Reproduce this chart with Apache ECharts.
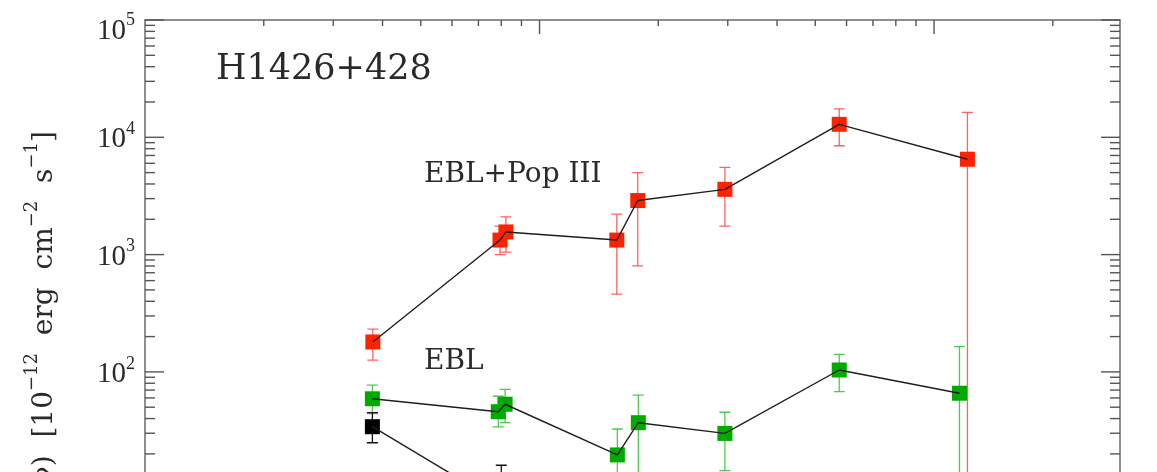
<!DOCTYPE html>
<html>
<head>
<meta charset="utf-8">
<script src="https://cdn.jsdelivr.net/npm/echarts@6/dist/echarts.min.js"></script>
<style>
  html, body { margin: 0; padding: 0; background: #ffffff; overflow: hidden; }
  #chart { width: 1157px; height: 472px; }
</style>
</head>
<body>
<div id="chart"></div>
<script>
// Intrinsic spectrum of H1426+428, energies in TeV, fluxes in 1e-12 erg cm^-2 s^-1

// EBL + Pop III absorption correction
const energyPop3 = [0.378, 0.794, 0.822, 1.57, 1.774, 2.95, 5.75, 12.15];
const fluxPop3   = [180, 1330, 1560, 1330, 2890, 3600, 12900, 6500];
const fluxPop3Lo = [126, 1000, 1050, 460, 800, 1750, 8470, 1.0];
const fluxPop3Hi = [232, 1750, 2100, 2210, 4990, 5550, 17500, 16300];

// EBL-only absorption correction
const energyEbl = [0.377, 0.786, 0.818, 1.575, 1.78, 2.95, 5.75, 11.6];
const fluxEbl   = [59, 45.8, 53, 19.6, 36.9, 29.9, 103.8, 65.8];
const fluxEblLo = [44, 34, 37, 8, 10, 14.4, 67.8, 8];
const fluxEblHi = [77, 62, 71, 32.6, 63.5, 45.3, 141, 164];

// Observed spectrum
const energyObs = [0.377, 0.80];
const fluxObs   = [34.1, 7.5];
const fluxObsLo = [24.9, 3.5];
const fluxObsHi = [44.9, 16];

// Axis ranges and tick values
const energyRange = [0.1, 29.6];
const fluxRange = [0.5, 1e5];
const xMajorTicks = [1, 10];
const xMinorTicks = [0.2, 0.3, 0.4, 0.5, 0.6, 0.7, 0.8, 0.9, 2, 3, 4, 5, 6, 7, 8, 9, 20];
const yMajorTicks = [1, 10, 100, 1000, 10000, 100000];
const yMinorTicks = [0.6, 0.7, 0.8, 0.9,
  2, 3, 4, 5, 6, 7, 8, 9,
  20, 30, 40, 50, 60, 70, 80, 90,
  200, 300, 400, 500, 600, 700, 800, 900,
  2000, 3000, 4000, 5000, 6000, 7000, 8000, 9000,
  20000, 30000, 40000, 50000, 60000, 70000, 80000, 90000];

const SERIF = '"DejaVu Serif", "Liberation Serif", serif';
const TICK_FONT = '"Liberation Serif", "DejaVu Serif", serif';
const TEXT_COLOR = '#2a2a2a';
const AXIS_COLOR = '#6a6a6a';

// plot frame: 117.3 px per decade on the flux axis, top at 10^5;
// the lower part of the frame runs past the bottom of the canvas
const PLOT_TOP = 20;
const DECADE_PX = 117.3;
const plotHeight = (Math.log10(fluxRange[1]) - Math.log10(fluxRange[0])) * DECADE_PX;

function pairs(xs, ys) { return xs.map((x, i) => [x, ys[i]]); }
function bars(xs, lo, hi) { return xs.map((x, i) => [x, lo[i], hi[i]]); }

function renderErrorBars(params, api) {
  const x = api.value(0);
  const lo = api.coord([x, api.value(1)]);
  const hi = api.coord([x, api.value(2)]);
  const half = 5.5;
  const style = { stroke: api.visual('color'), lineWidth: 1.3 };
  return {
    type: 'group',
    children: [
      { type: 'line', shape: { x1: lo[0], y1: lo[1], x2: hi[0], y2: hi[1] }, style },
      { type: 'line', shape: { x1: lo[0] - half, y1: lo[1], x2: lo[0] + half, y2: lo[1] }, style },
      { type: 'line', shape: { x1: hi[0] - half, y1: hi[1], x2: hi[0] + half, y2: hi[1] }, style }
    ]
  };
}

function errorSeries(xs, lo, hi, color) {
  return {
    type: 'custom',
    renderItem: renderErrorBars,
    data: bars(xs, lo, hi),
    encode: { x: 0, y: [1, 2] },
    itemStyle: { color },
    clip: true,
    silent: true,
    z: 2
  };
}

function pointSeries(xs, ys, color) {
  return {
    type: 'scatter',
    data: pairs(xs, ys),
    symbol: 'rect',
    symbolSize: 15,
    itemStyle: { color, opacity: 1 },
    silent: true,
    z: 3
  };
}

function lineSeries(xs, ys) {
  return {
    type: 'line',
    data: pairs(xs, ys),
    showSymbol: false,
    symbol: 'none',
    lineStyle: { color: '#1e1e1e', width: 1.4 },
    silent: true,
    z: 4
  };
}

// tick marks on all four sides of the frame
function xTickSeries(values, len) {
  return {
    type: 'custom',
    data: values.map(v => [v, 1000]),
    encode: { x: 0, y: 1 },
    silent: true,
    z: 6,
    renderItem(params, api) {
      const cs = params.coordSys;
      const px = api.coord([api.value(0), 1000])[0];
      const style = { stroke: '#555', lineWidth: 1.4 };
      return {
        type: 'group',
        children: [
          { type: 'line', shape: { x1: px, y1: cs.y, x2: px, y2: cs.y + len }, style },
          { type: 'line', shape: { x1: px, y1: cs.y + cs.height, x2: px, y2: cs.y + cs.height - len }, style }
        ]
      };
    }
  };
}

function yTickSeries(values, len) {
  return {
    type: 'custom',
    data: values.map(v => [1, v]),
    encode: { x: 0, y: 1 },
    silent: true,
    z: 6,
    renderItem(params, api) {
      const cs = params.coordSys;
      const py = api.coord([1, api.value(1)])[1];
      const style = { stroke: '#555', lineWidth: 1.4 };
      return {
        type: 'group',
        children: [
          { type: 'line', shape: { x1: cs.x, y1: py, x2: cs.x + len, y2: py }, style },
          { type: 'line', shape: { x1: cs.x + cs.width, y1: py, x2: cs.x + cs.width - len, y2: py }, style }
        ]
      };
    }
  };
}

function powerLabel(v) {
  const e = Math.log10(v);
  const r = Math.round(e);
  if (Math.abs(e - r) > 1e-6) return '';
  if (r === Math.log10(fluxRange[1])) return '{bt|10}{st|' + r + '}';
  return '{b|10}{s|' + r + '}';
}

const chart = echarts.init(document.getElementById('chart'), null, { renderer: 'canvas' });

const hiddenAxisParts = {
  axisTick: { show: false },
  splitLine: { show: false },
  minorTick: { show: false },
  minorSplitLine: { show: false }
};

chart.setOption({
  animation: false,
  backgroundColor: '#ffffff',
  grid: {
    left: 145,
    right: 37,
    top: PLOT_TOP,
    height: plotHeight,
    outerBoundsMode: 'none',
    containLabel: false
  },
  xAxis: [
    Object.assign({
      type: 'log', logBase: 10, min: energyRange[0], max: energyRange[1],
      position: 'bottom',
      axisLine: { show: true, lineStyle: { color: AXIS_COLOR, width: 1.5 } },
      axisLabel: { show: false }
    }, hiddenAxisParts),
    Object.assign({
      type: 'log', logBase: 10, min: energyRange[0], max: energyRange[1],
      position: 'top',
      axisLine: { show: true, lineStyle: { color: AXIS_COLOR, width: 1.5 } },
      axisLabel: { show: false }
    }, hiddenAxisParts)
  ],
  yAxis: [
    Object.assign({
      type: 'log', logBase: 10, min: fluxRange[0], max: fluxRange[1],
      position: 'left',
      splitNumber: 5,
      axisLine: { show: true, lineStyle: { color: AXIS_COLOR, width: 1.5 } },
      axisLabel: {
        show: true,
        margin: 10,
        color: TEXT_COLOR,
        fontFamily: TICK_FONT,
        formatter: powerLabel,
        rich: {
          b:  { fontSize: 29, fontFamily: TICK_FONT, color: TEXT_COLOR, lineHeight: 34, verticalAlign: 'bottom' },
          s:  { fontSize: 18, fontFamily: TICK_FONT, color: TEXT_COLOR, lineHeight: 18, verticalAlign: 'top' },
          bt: { fontSize: 29, fontFamily: TICK_FONT, color: TEXT_COLOR, lineHeight: 52, verticalAlign: 'bottom' },
          st: { fontSize: 18, fontFamily: TICK_FONT, color: TEXT_COLOR }
        }
      },
      name: '{n|νF(ν)  [10}{s|−12}{n|  erg  cm}{s|−2}{n|  s}{s|−1}{n|]}',
      nameLocation: 'middle',
      nameGap: 86,
      nameTextStyle: {
        fontFamily: SERIF,
        color: TEXT_COLOR,
        rich: {
          n: { fontSize: 28, fontFamily: SERIF, color: TEXT_COLOR, lineHeight: 36, verticalAlign: 'bottom' },
          s: { fontSize: 18, fontFamily: SERIF, color: TEXT_COLOR, lineHeight: 18, verticalAlign: 'top' }
        }
      }
    }, hiddenAxisParts),
    Object.assign({
      type: 'log', logBase: 10, min: fluxRange[0], max: fluxRange[1],
      position: 'right',
      axisLine: { show: true, lineStyle: { color: AXIS_COLOR, width: 1.5 } },
      axisLabel: { show: false }
    }, hiddenAxisParts)
  ],
  graphic: [
    { type: 'text', left: 216, top: 52, silent: true,
      style: { text: 'H1426+428', font: '35px ' + SERIF, fill: TEXT_COLOR } },
    { type: 'text', left: 424, top: 161, silent: true,
      style: { text: 'EBL+Pop III', font: '28px ' + SERIF, fill: TEXT_COLOR } },
    { type: 'text', left: 424, top: 348, silent: true,
      style: { text: 'EBL', font: '28px ' + SERIF, fill: TEXT_COLOR } }
  ],
  series: [
    errorSeries(energyPop3, fluxPop3Lo, fluxPop3Hi, 'rgba(255, 70, 70, 0.85)'),
    errorSeries(energyEbl, fluxEblLo, fluxEblHi, 'rgba(50, 190, 50, 0.85)'),
    errorSeries(energyObs, fluxObsLo, fluxObsHi, '#111111'),
    pointSeries(energyPop3, fluxPop3, '#ff2200'),
    pointSeries(energyEbl, fluxEbl, '#00aa00'),
    pointSeries(energyObs, fluxObs, '#000000'),
    lineSeries(energyPop3, fluxPop3),
    lineSeries(energyEbl, fluxEbl),
    lineSeries(energyObs, fluxObs),
    xTickSeries(xMajorTicks, 14),
    xTickSeries(xMinorTicks, 6),
    yTickSeries(yMajorTicks, 19),
    yTickSeries(yMinorTicks, 10)
  ]
});
</script>
</body>
</html>
